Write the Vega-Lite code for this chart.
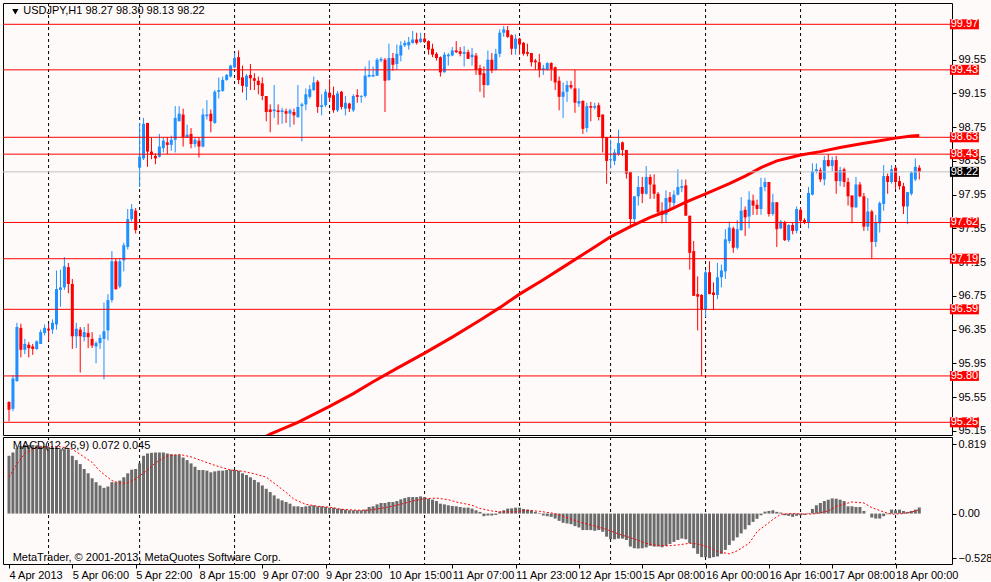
{
  "$schema": "https://vega.github.io/schema/vega-lite/v6.json",
  "background": "#FFFAFA",
  "padding": {"left": 2, "top": 2, "right": 6, "bottom": 0},
  "spacing": 2,
  "bounds": "flush",
  "config": {
    "font": "Liberation Sans Narrow, Liberation Sans, sans-serif",
    "view": {"stroke": "#000000", "strokeWidth": 1, "fill": "#FFFAFA"},
    "axis": {"labelFontSize": 11, "labelColor": "#000000", "tickColor": "#000000", "domain": false, "grid": false, "tickSize": 4, "labelPadding": 2, "labelOverlap": false}
  },
  "datasets": {
    "ohlc": [
      {"i":0,"o":95.49,"h":95.5,"l":95.26,"c":95.4},{"i":1,"o":95.41,"h":95.81,"l":95.38,"c":95.77},{"i":2,"o":95.74,"h":96.43,"l":95.73,"c":96.38},{"i":3,"o":96.37,"h":96.42,"l":96.02,"c":96.11},{"i":4,"o":96.11,"h":96.24,"l":96.06,"c":96.18},{"i":5,"o":96.17,"h":96.2,"l":96.02,"c":96.13},{"i":6,"o":96.15,"h":96.18,"l":96.05,"c":96.12},{"i":7,"o":96.12,"h":96.22,"l":96.11,"c":96.21},{"i":8,"o":96.18,"h":96.35,"l":96.18,"c":96.32},{"i":9,"o":96.31,"h":96.41,"l":96.28,"c":96.37},
      {"i":10,"o":96.36,"h":96.42,"l":96.22,"c":96.34},{"i":11,"o":96.35,"h":96.47,"l":96.3,"c":96.43},{"i":12,"o":96.41,"h":97.05,"l":96.35,"c":96.83},{"i":13,"o":96.82,"h":97.06,"l":96.62,"c":96.85},{"i":14,"o":96.85,"h":97.21,"l":96.82,"c":97.1},{"i":15,"o":97.09,"h":97.14,"l":96.78,"c":96.89},{"i":16,"o":96.89,"h":96.95,"l":96.12,"c":96.27},{"i":17,"o":96.27,"h":96.43,"l":96.13,"c":96.36},{"i":18,"o":96.35,"h":96.38,"l":95.84,"c":96.27},{"i":19,"o":96.26,"h":96.38,"l":96.21,"c":96.32},
      {"i":20,"o":96.31,"h":96.42,"l":96.13,"c":96.26},{"i":21,"o":96.24,"h":96.32,"l":96.13,"c":96.16},{"i":22,"o":96.15,"h":96.21,"l":95.95,"c":96.19},{"i":23,"o":96.19,"h":96.29,"l":96.12,"c":96.25},{"i":24,"o":96.24,"h":96.67,"l":95.76,"c":96.33},{"i":25,"o":96.34,"h":96.77,"l":96.22,"c":96.7},{"i":26,"o":96.7,"h":97.28,"l":96.67,"c":97.16},{"i":27,"o":97.16,"h":97.19,"l":96.82,"c":96.83},{"i":28,"o":96.86,"h":97.2,"l":96.84,"c":97.16},{"i":29,"o":97.17,"h":97.38,"l":97.04,"c":97.35},
      {"i":30,"o":97.33,"h":97.78,"l":97.3,"c":97.66},{"i":31,"o":97.66,"h":97.84,"l":97.63,"c":97.78},{"i":32,"o":97.76,"h":97.79,"l":97.49,"c":97.53},{"i":33,"o":98.27,"h":98.8,"l":98.04,"c":98.4},{"i":34,"o":98.38,"h":98.86,"l":98.36,"c":98.79},{"i":35,"o":98.8,"h":98.8,"l":98.28,"c":98.46},{"i":36,"o":98.46,"h":98.63,"l":98.37,"c":98.42},{"i":37,"o":98.41,"h":98.44,"l":98.31,"c":98.38},{"i":38,"o":98.4,"h":98.67,"l":98.39,"c":98.52},{"i":39,"o":98.5,"h":98.63,"l":98.45,"c":98.59},
      {"i":40,"o":98.57,"h":98.63,"l":98.43,"c":98.54},{"i":41,"o":98.54,"h":98.65,"l":98.47,"c":98.6},{"i":42,"o":98.6,"h":99.0,"l":98.45,"c":98.86},{"i":43,"o":98.82,"h":99.0,"l":98.82,"c":98.91},{"i":44,"o":98.9,"h":98.97,"l":98.52,"c":98.63},{"i":45,"o":98.63,"h":98.78,"l":98.62,"c":98.66},{"i":46,"o":98.67,"h":98.74,"l":98.5,"c":98.55},{"i":47,"o":98.55,"h":98.63,"l":98.51,"c":98.6},{"i":48,"o":98.59,"h":98.63,"l":98.39,"c":98.52},{"i":49,"o":98.52,"h":98.97,"l":98.51,"c":98.9},
      {"i":50,"o":98.88,"h":99.07,"l":98.84,"c":98.9},{"i":51,"o":98.91,"h":98.96,"l":98.69,"c":98.82},{"i":52,"o":98.8,"h":99.19,"l":98.79,"c":99.17},{"i":53,"o":99.17,"h":99.34,"l":99.09,"c":99.19},{"i":54,"o":99.18,"h":99.35,"l":99.17,"c":99.31},{"i":55,"o":99.31,"h":99.38,"l":99.3,"c":99.37},{"i":56,"o":99.35,"h":99.49,"l":99.34,"c":99.48},{"i":57,"o":99.46,"h":99.63,"l":99.45,"c":99.57},{"i":58,"o":99.58,"h":99.66,"l":99.26,"c":99.31},{"i":59,"o":99.34,"h":99.48,"l":99.16,"c":99.24},
      {"i":60,"o":99.23,"h":99.38,"l":99.07,"c":99.36},{"i":61,"o":99.37,"h":99.5,"l":99.19,"c":99.33},{"i":62,"o":99.33,"h":99.39,"l":99.19,"c":99.3},{"i":63,"o":99.3,"h":99.35,"l":99.14,"c":99.25},{"i":64,"o":99.27,"h":99.34,"l":99.07,"c":99.12},{"i":65,"o":99.12,"h":99.12,"l":98.82,"c":98.93},{"i":66,"o":98.96,"h":99.02,"l":98.69,"c":98.93},{"i":67,"o":98.94,"h":99.25,"l":98.86,"c":98.96},{"i":68,"o":98.95,"h":99.02,"l":98.78,"c":98.93},{"i":69,"o":98.93,"h":98.98,"l":98.79,"c":98.95},
      {"i":70,"o":98.94,"h":98.97,"l":98.8,"c":98.91},{"i":71,"o":98.91,"h":98.97,"l":98.75,"c":98.95},{"i":72,"o":98.93,"h":98.97,"l":98.78,"c":98.89},{"i":73,"o":98.87,"h":99.25,"l":98.86,"c":98.99},{"i":74,"o":99.0,"h":99.04,"l":98.58,"c":99.02},{"i":75,"o":99.02,"h":99.21,"l":98.95,"c":99.14},{"i":76,"o":99.11,"h":99.25,"l":99.09,"c":99.2},{"i":77,"o":99.19,"h":99.35,"l":99.18,"c":99.28},{"i":78,"o":99.29,"h":99.31,"l":98.92,"c":98.99},{"i":79,"o":98.99,"h":99.14,"l":98.89,"c":99.01},
      {"i":80,"o":99.01,"h":99.2,"l":98.99,"c":99.17},{"i":81,"o":99.16,"h":99.32,"l":99.05,"c":99.1},{"i":82,"o":99.13,"h":99.23,"l":98.92,"c":98.95},{"i":83,"o":98.95,"h":99.18,"l":98.93,"c":99.15},{"i":84,"o":99.17,"h":99.18,"l":98.96,"c":98.99},{"i":85,"o":98.97,"h":99.12,"l":98.89,"c":99.04},{"i":86,"o":99.03,"h":99.04,"l":98.93,"c":98.97},{"i":87,"o":98.95,"h":99.14,"l":98.93,"c":99.12},{"i":88,"o":99.13,"h":99.2,"l":99.04,"c":99.11},{"i":89,"o":99.11,"h":99.13,"l":99.04,"c":99.12},
      {"i":90,"o":99.12,"h":99.47,"l":99.1,"c":99.36},{"i":91,"o":99.35,"h":99.54,"l":99.34,"c":99.37},{"i":92,"o":99.35,"h":99.47,"l":99.35,"c":99.37},{"i":93,"o":99.36,"h":99.57,"l":99.36,"c":99.55},{"i":94,"o":99.54,"h":99.58,"l":99.52,"c":99.56},{"i":95,"o":99.55,"h":99.57,"l":98.93,"c":99.3},{"i":96,"o":99.31,"h":99.74,"l":99.3,"c":99.57},{"i":97,"o":99.57,"h":99.63,"l":99.42,"c":99.49},{"i":98,"o":99.5,"h":99.73,"l":99.43,"c":99.62},{"i":99,"o":99.6,"h":99.77,"l":99.53,"c":99.72},
      {"i":100,"o":99.72,"h":99.78,"l":99.7,"c":99.75},{"i":101,"o":99.72,"h":99.82,"l":99.67,"c":99.76},{"i":102,"o":99.75,"h":99.89,"l":99.74,"c":99.79},{"i":103,"o":99.79,"h":99.87,"l":99.73,"c":99.75},{"i":104,"o":99.76,"h":99.87,"l":99.75,"c":99.8},{"i":105,"o":99.8,"h":99.86,"l":99.75,"c":99.76},{"i":106,"o":99.77,"h":99.78,"l":99.61,"c":99.67},{"i":107,"o":99.68,"h":99.74,"l":99.58,"c":99.61},{"i":108,"o":99.62,"h":99.64,"l":99.54,"c":99.57},{"i":109,"o":99.58,"h":99.59,"l":99.35,"c":99.4},
      {"i":110,"o":99.4,"h":99.64,"l":99.4,"c":99.61},{"i":111,"o":99.59,"h":99.63,"l":99.48,"c":99.61},{"i":112,"o":99.6,"h":99.7,"l":99.59,"c":99.66},{"i":113,"o":99.66,"h":99.77,"l":99.63,"c":99.64},{"i":114,"o":99.65,"h":99.7,"l":99.59,"c":99.62},{"i":115,"o":99.62,"h":99.71,"l":99.47,"c":99.64},{"i":116,"o":99.64,"h":99.67,"l":99.56,"c":99.56},{"i":117,"o":99.58,"h":99.69,"l":99.48,"c":99.61},{"i":118,"o":99.6,"h":99.63,"l":99.37,"c":99.43},{"i":119,"o":99.45,"h":99.49,"l":99.17,"c":99.37},
      {"i":120,"o":99.39,"h":99.47,"l":99.1,"c":99.25},{"i":121,"o":99.25,"h":99.66,"l":99.24,"c":99.55},{"i":122,"o":99.55,"h":99.63,"l":99.39,"c":99.42},{"i":123,"o":99.43,"h":99.68,"l":99.42,"c":99.62},{"i":124,"o":99.62,"h":99.91,"l":99.58,"c":99.87},{"i":125,"o":99.87,"h":99.95,"l":99.82,"c":99.91},{"i":126,"o":99.9,"h":99.95,"l":99.81,"c":99.82},{"i":127,"o":99.84,"h":99.85,"l":99.61,"c":99.68},{"i":128,"o":99.68,"h":99.85,"l":99.61,"c":99.8},{"i":129,"o":99.8,"h":99.81,"l":99.61,"c":99.73},
      {"i":130,"o":99.75,"h":99.76,"l":99.6,"c":99.62},{"i":131,"o":99.64,"h":99.74,"l":99.59,"c":99.62},{"i":132,"o":99.63,"h":99.63,"l":99.47,"c":99.52},{"i":133,"o":99.54,"h":99.56,"l":99.43,"c":99.52},{"i":134,"o":99.52,"h":99.62,"l":99.34,"c":99.43},{"i":135,"o":99.43,"h":99.49,"l":99.37,"c":99.45},{"i":136,"o":99.43,"h":99.52,"l":99.42,"c":99.51},{"i":137,"o":99.51,"h":99.52,"l":99.3,"c":99.44},{"i":138,"o":99.46,"h":99.47,"l":99.19,"c":99.28},{"i":139,"o":99.3,"h":99.35,"l":98.95,"c":99.11},
      {"i":140,"o":99.11,"h":99.28,"l":98.86,"c":99.17},{"i":141,"o":99.17,"h":99.3,"l":99.05,"c":99.25},{"i":142,"o":99.25,"h":99.3,"l":99.2,"c":99.22},{"i":143,"o":99.21,"h":99.43,"l":98.92,"c":99.04},{"i":144,"o":99.03,"h":99.21,"l":98.99,"c":99.06},{"i":145,"o":99.06,"h":99.07,"l":98.67,"c":98.73},{"i":146,"o":98.74,"h":99.04,"l":98.69,"c":99.0},{"i":147,"o":99.0,"h":99.05,"l":98.82,"c":98.98},{"i":148,"o":98.98,"h":99.04,"l":98.96,"c":99.0},{"i":149,"o":99.01,"h":99.04,"l":98.83,"c":98.87},
      {"i":150,"o":98.9,"h":98.9,"l":98.45,"c":98.62},{"i":151,"o":98.63,"h":98.63,"l":98.08,"c":98.35},{"i":152,"o":98.36,"h":98.6,"l":98.26,"c":98.37},{"i":153,"o":98.35,"h":98.49,"l":98.3,"c":98.45},{"i":154,"o":98.43,"h":98.72,"l":98.41,"c":98.56},{"i":155,"o":98.57,"h":98.58,"l":98.41,"c":98.48},{"i":156,"o":98.48,"h":98.48,"l":98.14,"c":98.2},{"i":157,"o":98.22,"h":98.22,"l":97.58,"c":97.66},{"i":158,"o":97.66,"h":97.93,"l":97.58,"c":97.93},{"i":159,"o":97.93,"h":98.17,"l":97.82,"c":98.04},
      {"i":160,"o":98.04,"h":98.16,"l":97.85,"c":97.96},{"i":161,"o":97.96,"h":98.29,"l":97.95,"c":98.16},{"i":162,"o":98.16,"h":98.19,"l":97.9,"c":98.07},{"i":163,"o":98.07,"h":98.19,"l":97.9,"c":97.96},{"i":164,"o":97.96,"h":97.98,"l":97.71,"c":97.74},{"i":165,"o":97.76,"h":97.86,"l":97.61,"c":97.71},{"i":166,"o":97.71,"h":98.0,"l":97.62,"c":97.91},{"i":167,"o":97.92,"h":97.98,"l":97.76,"c":97.86},{"i":168,"o":97.85,"h":98.0,"l":97.79,"c":97.95},{"i":169,"o":97.95,"h":98.25,"l":97.94,"c":98.04},
      {"i":170,"o":98.03,"h":98.13,"l":97.98,"c":98.05},{"i":171,"o":98.06,"h":98.13,"l":97.7,"c":97.7},{"i":172,"o":97.7,"h":97.7,"l":97.06,"c":97.26},{"i":173,"o":97.28,"h":97.4,"l":96.75,"c":96.75},{"i":174,"o":96.77,"h":96.98,"l":96.34,"c":96.74},{"i":175,"o":96.76,"h":96.77,"l":95.8,"c":96.59},{"i":176,"o":96.59,"h":97.06,"l":96.5,"c":97.03},{"i":177,"o":97.03,"h":97.16,"l":96.77,"c":96.77},{"i":178,"o":96.79,"h":96.91,"l":96.58,"c":96.76},{"i":179,"o":96.76,"h":97.14,"l":96.71,"c":96.97},
      {"i":180,"o":96.97,"h":97.12,"l":96.85,"c":97.05},{"i":181,"o":97.04,"h":97.54,"l":96.95,"c":97.42},{"i":182,"o":97.4,"h":97.63,"l":97.37,"c":97.56},{"i":183,"o":97.55,"h":97.57,"l":97.26,"c":97.32},{"i":184,"o":97.32,"h":97.65,"l":97.3,"c":97.54},{"i":185,"o":97.53,"h":97.92,"l":97.52,"c":97.76},{"i":186,"o":97.77,"h":97.81,"l":97.46,"c":97.68},{"i":187,"o":97.69,"h":97.99,"l":97.55,"c":97.89},{"i":188,"o":97.88,"h":97.95,"l":97.71,"c":97.82},{"i":189,"o":97.83,"h":97.89,"l":97.71,"c":97.78},
      {"i":190,"o":97.78,"h":98.15,"l":97.71,"c":98.04},{"i":191,"o":98.04,"h":98.15,"l":97.99,"c":98.1},{"i":192,"o":98.1,"h":98.1,"l":97.69,"c":97.72},{"i":193,"o":97.72,"h":97.96,"l":97.7,"c":97.86},{"i":194,"o":97.86,"h":97.86,"l":97.33,"c":97.54},{"i":195,"o":97.55,"h":97.65,"l":97.54,"c":97.63},{"i":196,"o":97.62,"h":97.64,"l":97.4,"c":97.41},{"i":197,"o":97.41,"h":97.6,"l":97.39,"c":97.59},{"i":198,"o":97.59,"h":97.62,"l":97.48,"c":97.52},{"i":199,"o":97.52,"h":97.81,"l":97.49,"c":97.78},
      {"i":200,"o":97.77,"h":97.8,"l":97.59,"c":97.64},{"i":201,"o":97.65,"h":97.67,"l":97.6,"c":97.62},{"i":202,"o":97.62,"h":98.04,"l":97.55,"c":97.97},{"i":203,"o":97.95,"h":98.32,"l":97.94,"c":98.23},{"i":204,"o":98.23,"h":98.32,"l":98.2,"c":98.25},{"i":205,"o":98.24,"h":98.27,"l":98.1,"c":98.13},{"i":206,"o":98.13,"h":98.41,"l":98.06,"c":98.36},{"i":207,"o":98.36,"h":98.43,"l":98.28,"c":98.29},{"i":208,"o":98.29,"h":98.4,"l":98.23,"c":98.36},{"i":209,"o":98.36,"h":98.41,"l":97.96,"c":98.11},
      {"i":210,"o":98.11,"h":98.28,"l":98.05,"c":98.24},{"i":211,"o":98.25,"h":98.27,"l":98.04,"c":98.1},{"i":212,"o":98.1,"h":98.15,"l":97.82,"c":97.93},{"i":213,"o":97.94,"h":97.94,"l":97.61,"c":97.8},{"i":214,"o":97.8,"h":98.16,"l":97.79,"c":98.07},{"i":215,"o":98.07,"h":98.1,"l":97.92,"c":97.93},{"i":216,"o":97.93,"h":97.97,"l":97.52,"c":97.57},{"i":217,"o":97.57,"h":97.91,"l":97.52,"c":97.75},{"i":218,"o":97.75,"h":97.77,"l":97.19,"c":97.39},{"i":219,"o":97.39,"h":97.71,"l":97.33,"c":97.62},
      {"i":220,"o":97.61,"h":97.87,"l":97.5,"c":97.85},{"i":221,"o":97.84,"h":98.3,"l":97.76,"c":98.17},{"i":222,"o":98.17,"h":98.2,"l":97.96,"c":98.1},{"i":223,"o":98.1,"h":98.3,"l":98.08,"c":98.25},{"i":224,"o":98.27,"h":98.28,"l":98.02,"c":98.1},{"i":225,"o":98.11,"h":98.17,"l":98.01,"c":98.05},{"i":226,"o":98.05,"h":98.09,"l":97.72,"c":97.81},{"i":227,"o":97.81,"h":97.98,"l":97.6,"c":97.98},{"i":228,"o":97.96,"h":98.23,"l":97.94,"c":98.21},{"i":229,"o":98.13,"h":98.38,"l":98.11,"c":98.28},
      {"i":230,"o":98.27,"h":98.3,"l":98.13,"c":98.22}
    ],
    "ma": [
      {"i":60,"v":94.95},{"i":66,"v":95.11},{"i":73,"v":95.25},{"i":81,"v":95.44},{"i":87,"v":95.59},{"i":92,"v":95.73},{"i":98,"v":95.89},{"i":105,"v":96.07},{"i":112,"v":96.26},{"i":119,"v":96.46},{"i":124,"v":96.61},{"i":129,"v":96.77},{"i":135,"v":96.94},{"i":141,"v":97.12},{"i":147,"v":97.3},{"i":152,"v":97.45},{"i":157,"v":97.57},{"i":162,"v":97.68},{"i":166,"v":97.75},{"i":171,"v":97.86},{"i":176,"v":97.96},{"i":182,"v":98.08},{"i":186,"v":98.17},{"i":190,"v":98.27},{"i":194,"v":98.35},{"i":200,"v":98.42},{"i":205,"v":98.46},{"i":210,"v":98.51},{"i":215,"v":98.55},{"i":220,"v":98.59},{"i":224,"v":98.62},{"i":228,"v":98.645},{"i":230,"v":98.65}
    ],
    "hist": [
      {"i":0,"m":0.683},{"i":1,"m":0.722},{"i":2,"m":0.772},{"i":3,"m":0.8},{"i":4,"m":0.811},{"i":5,"m":0.811},{"i":6,"m":0.811},{"i":7,"m":0.807},{"i":8,"m":0.8},{"i":9,"m":0.8},
      {"i":10,"m":0.788},{"i":11,"m":0.78},{"i":12,"m":0.78},{"i":13,"m":0.761},{"i":14,"m":0.761},{"i":15,"m":0.761},{"i":16,"m":0.683},{"i":17,"m":0.632},{"i":18,"m":0.585},{"i":19,"m":0.527},
      {"i":20,"m":0.476},{"i":21,"m":0.417},{"i":22,"m":0.371},{"i":23,"m":0.332},{"i":24,"m":0.304},{"i":25,"m":0.32},{"i":26,"m":0.371},{"i":27,"m":0.371},{"i":28,"m":0.39},{"i":29,"m":0.429},
      {"i":30,"m":0.476},{"i":31,"m":0.519},{"i":32,"m":0.527},{"i":33,"m":0.593},{"i":34,"m":0.683},{"i":35,"m":0.71},{"i":36,"m":0.718},{"i":37,"m":0.722},{"i":38,"m":0.722},{"i":39,"m":0.722},
      {"i":40,"m":0.71},{"i":41,"m":0.702},{"i":42,"m":0.694},{"i":43,"m":0.694},{"i":44,"m":0.663},{"i":45,"m":0.632},{"i":46,"m":0.593},{"i":47,"m":0.554},{"i":48,"m":0.515},{"i":49,"m":0.515},
      {"i":50,"m":0.507},{"i":51,"m":0.488},{"i":52,"m":0.499},{"i":53,"m":0.507},{"i":54,"m":0.507},{"i":55,"m":0.515},{"i":56,"m":0.519},{"i":57,"m":0.515},{"i":58,"m":0.507},{"i":59,"m":0.476},
      {"i":60,"m":0.456},{"i":61,"m":0.429},{"i":62,"m":0.398},{"i":63,"m":0.371},{"i":64,"m":0.332},{"i":65,"m":0.293},{"i":66,"m":0.254},{"i":67,"m":0.215},{"i":68,"m":0.176},{"i":69,"m":0.156},
      {"i":70,"m":0.137},{"i":71,"m":0.117},{"i":72,"m":0.086},{"i":73,"m":0.086},{"i":74,"m":0.078},{"i":75,"m":0.086},{"i":76,"m":0.094},{"i":77,"m":0.098},{"i":78,"m":0.086},{"i":79,"m":0.086},
      {"i":80,"m":0.08},{"i":81,"m":0.07},{"i":82,"m":0.07},{"i":83,"m":0.059},{"i":84,"m":0.055},{"i":85,"m":0.047},{"i":86,"m":0.039},{"i":87,"m":0.039},{"i":88,"m":0.039},{"i":89,"m":0.039},
      {"i":90,"m":0.047},{"i":91,"m":0.078},{"i":92,"m":0.086},{"i":93,"m":0.109},{"i":94,"m":0.125},{"i":95,"m":0.125},{"i":96,"m":0.137},{"i":97,"m":0.137},{"i":98,"m":0.148},{"i":99,"m":0.168},
      {"i":100,"m":0.183},{"i":101,"m":0.195},{"i":102,"m":0.195},{"i":103,"m":0.195},{"i":104,"m":0.203},{"i":105,"m":0.195},{"i":106,"m":0.176},{"i":107,"m":0.164},{"i":108,"m":0.148},{"i":109,"m":0.117},
      {"i":110,"m":0.109},{"i":111,"m":0.098},{"i":112,"m":0.09},{"i":113,"m":0.086},{"i":114,"m":0.078},{"i":115,"m":0.07},{"i":116,"m":0.07},{"i":117,"m":0.059},{"i":118,"m":0.039},{"i":119,"m":0.02},
      {"i":120,"m":-0.031},{"i":121,"m":-0.023},{"i":122,"m":-0.023},{"i":123,"m":-0.016},{"i":124,"m":0.023},{"i":125,"m":0.039},{"i":126,"m":0.059},{"i":127,"m":0.062},{"i":128,"m":0.07},{"i":129,"m":0.07},
      {"i":130,"m":0.055},{"i":131,"m":0.047},{"i":132,"m":0.039},{"i":133,"m":0.02},{"i":134,"m":0.008},{"i":135,"m":-0.023},{"i":136,"m":-0.031},{"i":137,"m":-0.039},{"i":138,"m":-0.059},{"i":139,"m":-0.086},
      {"i":140,"m":-0.109},{"i":141,"m":-0.117},{"i":142,"m":-0.125},{"i":143,"m":-0.148},{"i":144,"m":-0.164},{"i":145,"m":-0.195},{"i":146,"m":-0.195},{"i":147,"m":-0.195},{"i":148,"m":-0.203},{"i":149,"m":-0.195},
      {"i":150,"m":-0.215},{"i":151,"m":-0.273},{"i":152,"m":-0.304},{"i":153,"m":-0.304},{"i":154,"m":-0.296},{"i":155,"m":-0.296},{"i":156,"m":-0.312},{"i":157,"m":-0.39},{"i":158,"m":-0.41},{"i":159,"m":-0.413},
      {"i":160,"m":-0.41},{"i":161,"m":-0.4},{"i":162,"m":-0.382},{"i":163,"m":-0.39},{"i":164,"m":-0.39},{"i":165,"m":-0.398},{"i":166,"m":-0.382},{"i":167,"m":-0.359},{"i":168,"m":-0.335},{"i":169,"m":-0.312},
      {"i":170,"m":-0.296},{"i":171,"m":-0.304},{"i":172,"m":-0.351},{"i":173,"m":-0.41},{"i":174,"m":-0.476},{"i":175,"m":-0.515},{"i":176,"m":-0.515},{"i":177,"m":-0.527},{"i":178,"m":-0.515},{"i":179,"m":-0.507},
      {"i":180,"m":-0.476},{"i":181,"m":-0.429},{"i":182,"m":-0.371},{"i":183,"m":-0.32},{"i":184,"m":-0.281},{"i":185,"m":-0.234},{"i":186,"m":-0.187},{"i":187,"m":-0.137},{"i":188,"m":-0.098},{"i":189,"m":-0.062},
      {"i":190,"m":-0.02},{"i":191,"m":0.023},{"i":192,"m":0.031},{"i":193,"m":0.039},{"i":194,"m":0.02},{"i":195,"m":0.012},{"i":196,"m":-0.02},{"i":197,"m":-0.027},{"i":198,"m":-0.039},{"i":199,"m":-0.027},
      {"i":200,"m":-0.02},{"i":201,"m":-0.016},{"i":202,"m":0.008},{"i":203,"m":0.055},{"i":204,"m":0.098},{"i":205,"m":0.125},{"i":206,"m":0.148},{"i":207,"m":0.164},{"i":208,"m":0.179},{"i":209,"m":0.176},
      {"i":210,"m":0.164},{"i":211,"m":0.148},{"i":212,"m":0.086},{"i":213,"m":0.086},{"i":214,"m":0.078},{"i":215,"m":0.078},{"i":216,"m":0.031},{"i":217,"m":0.0},{"i":218,"m":-0.047},{"i":219,"m":-0.059},
      {"i":220,"m":-0.059},{"i":221,"m":-0.031},{"i":222,"m":-0.008},{"i":223,"m":0.047},{"i":224,"m":0.039},{"i":225,"m":0.047},{"i":226,"m":0.031},{"i":227,"m":0.02},{"i":228,"m":0.031},{"i":229,"m":0.047},
      {"i":230,"m":0.072}
    ],
    "sig": [
      {"i":0,"s":0.43},{"i":2,"s":0.585},{"i":4,"s":0.71},{"i":7,"s":0.78},{"i":10,"s":0.79},{"i":13,"s":0.79},{"i":16,"s":0.76},{"i":18,"s":0.7},{"i":21,"s":0.605},{"i":23,"s":0.5},{"i":26,"s":0.39},{"i":28,"s":0.36},{"i":30,"s":0.36},{"i":32,"s":0.41},{"i":35,"s":0.515},{"i":37,"s":0.6},{"i":40,"s":0.68},{"i":43,"s":0.7},{"i":46,"s":0.67},{"i":49,"s":0.62},{"i":52,"s":0.57},{"i":56,"s":0.515},{"i":59,"s":0.5},{"i":62,"s":0.47},{"i":65,"s":0.43},{"i":67,"s":0.36},{"i":70,"s":0.25},{"i":72,"s":0.17},{"i":75,"s":0.11},{"i":78,"s":0.086},{"i":81,"s":0.075},{"i":84,"s":0.05},{"i":88,"s":0.04},{"i":91,"s":0.04},{"i":93,"s":0.055},{"i":96,"s":0.078},{"i":99,"s":0.11},{"i":102,"s":0.148},{"i":105,"s":0.176},{"i":108,"s":0.183},{"i":111,"s":0.164},{"i":113,"s":0.137},{"i":117,"s":0.098},{"i":119,"s":0.06},{"i":122,"s":0.031},{"i":124,"s":0.02},{"i":128,"s":0.02},{"i":131,"s":0.039},{"i":134,"s":0.027},{"i":138,"s":0.0},{"i":141,"s":-0.047},{"i":144,"s":-0.098},{"i":148,"s":-0.148},{"i":151,"s":-0.187},{"i":154,"s":-0.242},{"i":158,"s":-0.3},{"i":161,"s":-0.351},{"i":163,"s":-0.371},{"i":166,"s":-0.382},{"i":169,"s":-0.371},{"i":172,"s":-0.351},{"i":174,"s":-0.359},{"i":177,"s":-0.4},{"i":179,"s":-0.448},{"i":182,"s":-0.476},{"i":184,"s":-0.44},{"i":187,"s":-0.351},{"i":189,"s":-0.215},{"i":193,"s":-0.07},{"i":195,"s":-0.008},{"i":198,"s":0.0},{"i":202,"s":-0.008},{"i":204,"s":0.0},{"i":207,"s":0.031},{"i":209,"s":0.086},{"i":213,"s":0.137},{"i":216,"s":0.125},{"i":218,"s":0.07},{"i":221,"s":0.02},{"i":223,"s":-0.008},{"i":226,"s":0.0},{"i":229,"s":0.03},{"i":230,"s":0.045}
    ],
    "days": [{"i":10},{"i":33},{"i":57},{"i":81},{"i":105},{"i":129},{"i":152},{"i":176},{"i":200},{"i":224}],
    "levels": [
      {"p":99.97,"cur":false},{"p":99.43,"cur":false},{"p":98.63,"cur":false},{"p":98.43,"cur":false},{"p":98.22,"cur":true},{"p":97.62,"cur":false},{"p":97.19,"cur":false},{"p":96.59,"cur":false},{"p":95.8,"cur":false},{"p":95.25,"cur":false}
    ]
  },
  "vconcat": [
    {
      "width": 949,
      "height": 432,
      "layer": [
        {
          "data": {"name": "days"},
          "mark": {"type": "rule", "color": "#000000", "strokeWidth": 1, "strokeDash": [3, 3]},
          "encoding": {
            "x": {"field": "i", "type": "quantitative", "scale": {"domain": [-0.25, 237], "nice": false, "zero": false}, "axis": null}
          }
        },
        {
          "data": {"name": "ohlc"},
          "mark": {"type": "rule", "strokeWidth": 1},
          "encoding": {
            "x": {"field": "i", "type": "quantitative", "axis": null},
            "y": {"field": "l", "type": "quantitative", "title": null, "scale": {"domain": [95.0995, 100.2226], "nice": false, "zero": false},
                  "axis": {"orient": "right", "values": [95.15, 95.55, 95.95, 96.35, 96.75, 97.15, 97.55, 97.95, 98.35, 98.75, 99.15, 99.55], "tickCount": 40, "format": ".2f", "labelOverlap": false}},
            "y2": {"field": "h"},
            "color": {"condition": {"test": "datum.c >= datum.o", "value": "#1E90FF"}, "value": "#FF0000"}
          }
        },
        {
          "data": {"name": "ohlc"},
          "mark": {"type": "bar", "size": 3},
          "encoding": {
            "x": {"field": "i", "type": "quantitative", "axis": null},
            "y": {"field": "o", "type": "quantitative", "title": null},
            "y2": {"field": "c"},
            "color": {"condition": {"test": "datum.c >= datum.o", "value": "#1E90FF"}, "value": "#FF0000"}
          }
        },
        {
          "data": {"name": "ma"},
          "mark": {"type": "line", "color": "#FF0000", "strokeWidth": 3, "clip": true},
          "encoding": {
            "x": {"field": "i", "type": "quantitative", "axis": null},
            "y": {"field": "v", "type": "quantitative", "title": null}
          }
        },
        {
          "data": {"name": "levels"},
          "mark": {"type": "rule", "strokeWidth": 1},
          "encoding": {
            "y": {"field": "p", "type": "quantitative", "title": null},
            "color": {"condition": {"test": "datum.cur", "value": "#C0C0C0"}, "value": "#FF0000"}
          }
        },
        {
          "data": {"name": "levels"},
          "mark": {"type": "tick", "orient": "horizontal", "size": 29, "thickness": 10, "opacity": 1, "clip": false},
          "encoding": {
            "x": {"datum": 241.4, "type": "quantitative", "axis": null},
            "y": {"field": "p", "type": "quantitative", "title": null},
            "color": {"condition": {"test": "datum.cur", "value": "#000000"}, "value": "#FF0000"}
          }
        },
        {
          "data": {"name": "levels"},
          "mark": {"type": "text", "color": "#FFFFFF", "fontSize": 11, "align": "center", "baseline": "middle", "clip": false},
          "encoding": {
            "x": {"datum": 241.4, "type": "quantitative", "axis": null},
            "y": {"field": "p", "type": "quantitative", "title": null},
            "text": {"field": "p", "format": ".2f"}
          }
        },
        {
          "data": {"values": [{}]},
          "mark": {"type": "point", "shape": "triangle-down", "filled": true, "color": "#000000", "size": 40, "opacity": 1},
          "encoding": {
            "x": {"datum": 1.6, "type": "quantitative", "axis": null},
            "y": {"datum": 100.12, "type": "quantitative", "title": null}
          }
        },
        {
          "data": {"values": [{}]},
          "mark": {"type": "text", "color": "#000000", "fontSize": 11, "align": "left", "baseline": "middle"},
          "encoding": {
            "x": {"datum": 3.6, "type": "quantitative", "axis": null},
            "y": {"datum": 100.125, "type": "quantitative", "title": null},
            "text": {"value": "USDJPY,H1  98.27 98.30 98.13 98.22"}
          }
        }
      ]
    },
    {
      "width": 949,
      "height": 127,
      "layer": [
        {
          "data": {"name": "days"},
          "mark": {"type": "rule", "color": "#000000", "strokeWidth": 1, "strokeDash": [3, 3]},
          "encoding": {
            "x": {"field": "i", "type": "quantitative", "title": null, "scale": {"domain": [-0.25, 237], "nice": false, "zero": false},
                  "axis": {"values": [0, 16, 32, 48, 64, 80, 96, 112, 128, 144, 160, 176, 192, 208, 224], "tickCount": 40, "labelAlign": "left", "labelPadding": 1, "labelFlush": false, "labelOverlap": false,
                           "labelExpr": "['4 Apr 2013','5 Apr 06:00','5 Apr 22:00','8 Apr 15:00','9 Apr 07:00','9 Apr 23:00','10 Apr 15:00','11 Apr 07:00','11 Apr 23:00','12 Apr 15:00','15 Apr 08:00','16 Apr 00:00','16 Apr 16:00','17 Apr 08:00','18 Apr 00:00'][round(datum.value / 16)]"}}
          }
        },
        {
          "data": {"name": "hist"},
          "mark": {"type": "bar", "size": 3, "color": "#6B6B6B"},
          "encoding": {
            "x": {"field": "i", "type": "quantitative", "title": null},
            "y": {"field": "m", "type": "quantitative", "title": null, "scale": {"domain": [-0.596, 0.905], "nice": false, "zero": false},
                  "axis": {"orient": "right", "values": [0.819, 0, -0.528], "tickCount": 10, "labelOverlap": false, "labelExpr": "datum.value == 0 ? '0.00' : format(datum.value, '.3f')"}},
            "y2": {"datum": 0}
          }
        },
        {
          "data": {"name": "sig"},
          "mark": {"type": "line", "color": "#FF0000", "strokeWidth": 1, "strokeDash": [2, 2]},
          "encoding": {
            "x": {"field": "i", "type": "quantitative", "title": null},
            "y": {"field": "s", "type": "quantitative", "title": null}
          }
        },
        {
          "data": {"values": [{"t": "MACD(12,26,9) 0.072 0.045", "v": 0.793}, {"t": "MetaTrader, © 2001-2013, MetaQuotes Software Corp.", "v": -0.525}]},
          "mark": {"type": "text", "color": "#000000", "fontSize": 11, "align": "left", "baseline": "middle"},
          "encoding": {
            "x": {"datum": 0.93, "type": "quantitative", "title": null},
            "y": {"field": "v", "type": "quantitative", "title": null},
            "text": {"field": "t"}
          }
        }
      ]
    }
  ]
}
